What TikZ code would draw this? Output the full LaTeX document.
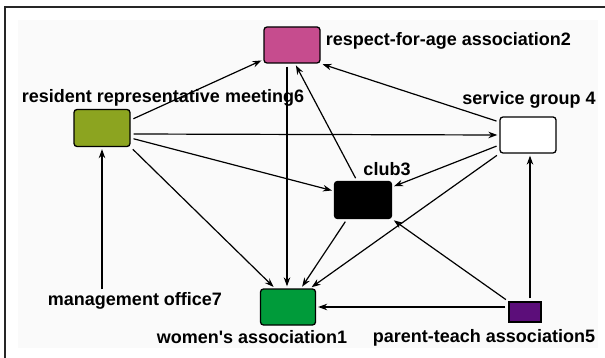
\documentclass[tikz,border=0pt]{standalone}
\usepackage{fontspec}
\setmainfont{Liberation Sans}
\usetikzlibrary{positioning, arrows.meta}

\definecolor{pinkbox}{RGB}{198,76,142}
\definecolor{olivebox}{RGB}{140,164,32}
\definecolor{greenbox}{RGB}{0,155,58}
\definecolor{purplebox}{RGB}{92,14,122}

\begin{document}
\begin{tikzpicture}[
    x=1pt, y=-1pt,
    % Style for the coloured boxes of the organisations
    org/.style = {draw, line width=1.3pt, rounded corners=3pt, minimum width=56pt, minimum height=36pt, inner sep=0pt},
    % Style for the names written next to the boxes
    lbl/.style = {font=\bfseries\fontsize{18}{20}\selectfont, inner sep=0pt, text height=13pt, text depth=4pt},
    % Style for the arrows between the organisations
    arrow/.style = {-{Stealth[length=9pt, width=6.5pt]}, line width=1.2pt, shorten <=3pt, shorten >=2pt}
]

    % --- FRAME ---
    \useasboundingbox (0,0) rectangle (605,358);
    \fill[black!2] (18,20) rectangle (598,348);
    \draw[line width=1.5pt, black!85] (5,358) -- (5,7) -- (605,7);

    % --- BOXES ---
    \node[org, fill=pinkbox] (assoc2) at (292,45) {};
    \node[org, fill=olivebox, minimum height=37pt] (meet6) at (102,128) {};
    \node[org, fill=white] (group4) at (528,135) {};
    \node[org, fill=black, minimum width=57pt, minimum height=37pt] (club3) at (363,200) {};
    \node[org, fill=greenbox, minimum width=55pt] (women1) at (288,307) {};
    \node[org, fill=purplebox, minimum width=32pt, minimum height=20pt, rounded corners=0pt] (pta5) at (525,312) {};

    % --- NAMES ---
    \node[lbl, right=5pt of assoc2, yshift=4pt] {respect-for-age association2};
    \node[lbl, above=2pt of meet6, xshift=61pt] {resident representative meeting6};
    \node[lbl, above=7.5pt of group4, xshift=1pt] {service group 4};
    \node[lbl, above=1.5pt of club3, xshift=24pt] {club3};
    \node[lbl] (office7) at (135,301) {management office7};
    \node[lbl, below=4.5pt of women1, xshift=-36pt] {women\textquotesingle s association1};
    \node[lbl, below=6.5pt of pta5, xshift=-41pt] {parent-teach association5};

    % --- ARROWS ---
    \draw[arrow] ([yshift=8pt]meet6.east) -- ([yshift=4pt]assoc2.south west);
    \draw[arrow] ([yshift=-6pt]meet6.east) -- (group4.west);
    \draw[arrow] ([yshift=-10pt]meet6.east) -- ([yshift=9pt]club3.west);
    \draw[arrow] (meet6.south east) -- ([xshift=-13pt]women1.north);
    \draw[arrow] ([xshift=-5pt]assoc2.south) -- ([xshift=-1pt]women1.north);
    \draw[arrow] ([xshift=-6pt]club3.north) -- ([xshift=3pt]assoc2.south);
    \draw[arrow] ([yshift=13pt]group4.west) -- (assoc2.south east);
    \draw[arrow] ([yshift=-10pt]group4.west) -- ([yshift=13pt]club3.east);
    \draw[arrow] (group4.south west) -- ([xshift=22pt]women1.north);
    \draw[arrow] ([xshift=-16pt]club3.south) -- ([xshift=13pt]women1.north);
    \draw[arrow] (pta5.north west) -- (club3.south east);
    \draw[arrow] ([xshift=5pt]pta5.north) -- ([xshift=2pt]group4.south);
    \draw[arrow] ([yshift=5pt]pta5.west) -- (women1.east);
    \draw[arrow] (office7.north -| meet6.south) -- (meet6.south);

\end{tikzpicture}
\end{document}
